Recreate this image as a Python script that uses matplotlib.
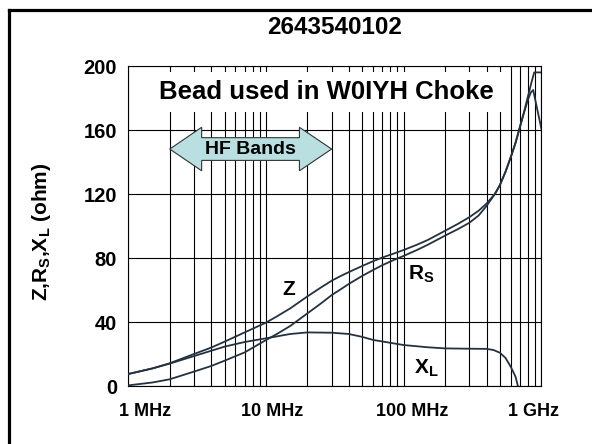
import matplotlib
matplotlib.use("Agg")
import matplotlib.pyplot as plt
from matplotlib.patches import Polygon
from matplotlib.lines import Line2D
from matplotlib.transforms import ScaledTranslation

plt.rcParams['font.family'] = ['Liberation Sans', 'DejaVu Sans']
plt.rcParams['mathtext.fontset'] = 'custom'
plt.rcParams['mathtext.rm'] = 'Liberation Sans:bold'
plt.rcParams['mathtext.bf'] = 'Liberation Sans:bold'
plt.rcParams['mathtext.it'] = 'Liberation Sans:bold'

# ---------------- data (frequency in MHz, impedance in ohm) ----------------
z_freq = [1, 1.5, 2, 3, 4, 5, 7, 10, 12, 15, 20, 25, 30, 35, 40, 50, 60, 70, 85, 100, 125, 150,
          200, 250, 300, 350, 400, 460, 500, 550, 600, 650, 700, 750, 800, 850, 888, 1000]
z_vals = [7.5, 11, 14.2, 20, 24, 27.7, 33.5, 39.6, 43.5, 48.5, 56, 61.5, 65.8, 68.8, 71.2, 75, 78, 80.3, 82.8, 85, 88.3, 91.3,
          97, 101.5, 105.5, 109.5, 114, 120, 125.5, 134, 143, 152, 162, 171.5, 181, 190, 196, 196]

rs_freq = [1, 1.5, 2, 3, 4, 5, 7, 10, 12, 15, 20, 25, 30, 35, 40, 50, 60, 70, 85, 100, 125, 150,
           200, 250, 300, 350, 400, 460, 500, 550, 600, 650, 700, 750, 800, 840, 873, 1000]
rs_vals = [0.4, 2.2, 4.2, 9, 12.5, 15.8, 21, 28.7, 32.5, 37.5, 45.4, 51.5, 56.8, 60.5, 63.8, 68.8, 72.5, 75.5, 78.8, 81.3, 85, 88.3,
           94, 98.2, 102, 106.5, 112.5, 120, 125.5, 134, 143, 152, 162, 171, 179, 183.5, 185, 161]

xl_freq = [1, 1.5, 2, 3, 5, 7, 10, 15, 20, 30, 40, 50, 60, 80, 100, 150, 200, 300, 400, 450, 500, 550, 600, 650, 676]
xl_vals = [7.5, 11, 14, 18.7, 24.6, 27.5, 29.8, 32.5, 33.5, 33.3, 32.5, 30.7, 28.8, 27, 25.6, 24.2, 23.5, 23.3, 23.2, 22.5, 20.8, 17.5, 12, 5.8, 0]

x_tick_vals = [1, 10, 100, 1000]
x_tick_labels = ['1 MHz', '10 MHz', '100 MHz', '1 GHz']
y_tick_vals = [0, 40, 80, 120, 160, 200]

title_text = '2643540102'
note_text = 'Bead used in W0IYH Choke'
band_text = 'HF Bands'
band_range = (2, 30)

# ---------------- figure ----------------
W, H = 592, 444
fig = plt.figure(figsize=(W / 100, H / 100), dpi=100)
fig.patch.set_facecolor('white')

ax = fig.add_axes([128.3 / W, 1 - 386 / H, 413 / W, 320 / H])
ax.set_xscale('log')
ax.set_xlim(1, 1000)
ax.set_ylim(0, 200)

curve_color = '#24323f'
ax.plot(z_freq, z_vals, color=curve_color, lw=1.3, zorder=3)
ax.plot(rs_freq, rs_vals, color=curve_color, lw=1.3, zorder=3)
ax.plot(xl_freq, xl_vals, color=curve_color, lw=1.3, zorder=3)

# grid
ax.set_xticks(x_tick_vals)
ax.set_xticklabels(x_tick_labels)
ax.xaxis.set_minor_locator(matplotlib.ticker.LogLocator(base=10, subs=range(2, 10), numticks=20))
ax.xaxis.set_minor_formatter(matplotlib.ticker.NullFormatter())
ax.set_yticks(y_tick_vals)
ax.grid(True, which='both', axis='x', color='black', lw=0.8)
ax.grid(True, which='major', axis='y', color='black', lw=0.8)
ax.set_axisbelow(True)
for s in ax.spines.values():
    s.set_color('black')
    s.set_linewidth(0.8)

ax.tick_params(axis='both', which='both', length=0)
ax.tick_params(axis='x', pad=12, labelsize=13)
ax.tick_params(axis='y', pad=8, labelsize=14.5)
for lab in ax.get_xticklabels() + ax.get_yticklabels():
    lab.set_fontweight('bold')

# per-label horizontal offsets (in points) as in the reference
for lab, dx in zip(ax.get_xticklabels(), [12, 4.5, 6.5, -5.5]):
    lab.set_transform(lab.get_transform() + ScaledTranslation(dx / 72, 0, fig.dpi_scale_trans))

ax.set_ylabel(r'Z,$\mathbf{R_S}$,$\mathbf{X_L}$ (ohm)', fontsize=15, fontweight='bold')
ax.yaxis.set_label_coords((53 - 128.3) / 413, (386 - 232) / 320)

# curve labels
ax.text(13.2, 56.9, 'Z', fontsize=15, fontweight='bold', ha='left', va='baseline', zorder=5)
ax.text(108, 66.7, r'$\mathbf{R_S}$', fontsize=15, ha='left', va='baseline', zorder=5)
ax.text(119, 7.5, r'$\mathbf{X_L}$', fontsize=15, ha='left', va='baseline', zorder=5)

# note box
ax.text(0.48, 0.919, note_text, transform=ax.transAxes, ha='center', va='center',
        fontsize=18.5, fontweight='bold', zorder=6,
        bbox=dict(boxstyle='square,pad=0.3', facecolor='white', edgecolor='none'))

# HF band double arrow
lo, hi = band_range
hb_lo, hb_hi = 3.41, 17.5
yc, ys, yh = 148.1, 7.1, 13.6
arrow = Polygon([(lo, yc), (hb_lo, yc + yh), (hb_lo, yc + ys), (hb_hi, yc + ys), (hb_hi, yc + yh),
                 (hi, yc), (hb_hi, yc - yh), (hb_hi, yc - ys), (hb_lo, yc - ys), (hb_lo, yc - yh)],
                closed=True, facecolor='#b9dfe0', edgecolor='#333333', lw=0.8, zorder=5)
ax.add_patch(arrow)
ax.text(7.65, 147.5, band_text, ha='center', va='center', fontsize=14, fontweight='bold', zorder=6)

# title
fig.text(334.5 / W, 1 - 27.7 / H, title_text, ha='center', va='center', fontsize=17.5, fontweight='bold')

# outer frame (cropped on the right and bottom)
fl, ft = 8.5 / W, 1 - 10.5 / H
fig.add_artist(Line2D([fl, fl], [0, ft], transform=fig.transFigure, color='black', lw=2.3,
                      solid_capstyle='projecting'))
fig.add_artist(Line2D([fl, 1], [ft, ft], transform=fig.transFigure, color='black', lw=2.3,
                      solid_capstyle='projecting'))

fig.savefig('out.png', dpi=100)
